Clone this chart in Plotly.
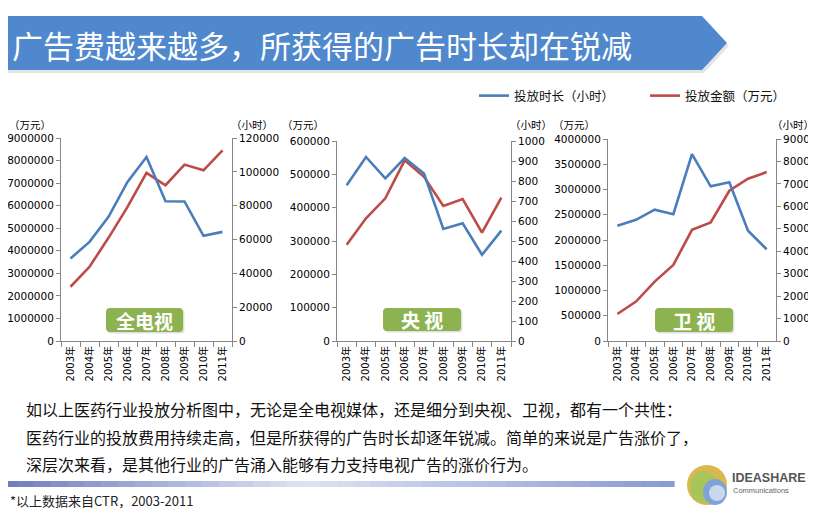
import plotly.graph_objects as go

# ---------------- data ----------------
years = ["2003年", "2004年", "2005年", "2006年", "2007年", "2008年", "2009年", "2010年", "2011年"]

all_tv_hours = [48800, 58600, 73400, 94000, 108800, 82600, 82500, 62200, 64500]
all_tv_spend = [2405000, 3290000, 4574000, 5946000, 7451000, 6905000, 7820000, 7569000, 8454000]

cctv_hours = [779, 920, 813, 915, 837, 560, 589, 431, 552]
cctv_spend = [288600, 368000, 428000, 542000, 492500, 405000, 426000, 325000, 430000]

sat_hours = [5130, 5400, 5850, 5650, 8330, 6890, 7070, 4910, 4090]
sat_spend = [535000, 780000, 1177000, 1507000, 2202000, 2347000, 2975000, 3213000, 3345000]

panel_names = ["全电视", "央 视", "卫 视"]
hours_series = [all_tv_hours, cctv_hours, sat_hours]
spend_series = [all_tv_spend, cctv_spend, sat_spend]
spend_max = [9000000, 600000, 4000000]
spend_step = [1000000, 100000, 500000]
hours_max = [120000, 1000, 9000]
hours_step = [20000, 100, 1000]

series_names = ["投放时长（小时）", "投放金额（万元）"]
title_text = "广告费越来越多，所获得的广告时长却在锐减"
body_lines = [
    "如以上医药行业投放分析图中，无论是全电视媒体，还是细分到央视、卫视，都有一个共性：",
    "医药行业的投放费用持续走高，但是所获得的广告时长却逐年锐减。简单的来说是广告涨价了，",
    "深层次来看，是其他行业的广告涌入能够有力支持电视广告的涨价行为。",
]
footnote = "*以上数据来自CTR，2003-2011"

# ---------------- style ----------------
# the page body has an 8px margin, so the figure is drawn 8px in from the window corner
OFF = 8
W, H = 816 - OFF, 511 - OFF
BLUE = "#4A7EBB"
RED = "#BE4B48"
AXIS = "#868686"
GREEN = "#8DB351"
CJK = "Noto Sans CJK SC"
NUM = "DejaVu Sans, Noto Sans CJK SC"


def px(x):
    return (x - OFF) / W


def py(y):
    return 1 - (y - OFF) / H


def P(x, y):
    return f"{px(x):.5f},{py(y):.5f}"


def note(x, y, text, size, color, family=CJK, xanchor="left"):
    return dict(x=px(x), y=py(y), xref="paper", yref="paper", xanchor=xanchor,
                yanchor="middle", text=text, showarrow=False,
                font=dict(size=size, family=family, color=color))


# panel plot-area boxes in window pixels (left, right, top, bottom)
boxes = [(61, 232, 138, 341), (337, 511, 141, 341), (608, 776, 139, 341)]
label_boxes = [(106, 183, 308, 332), (383, 461, 308, 331), (655, 733, 308, 332)]

fig = go.Figure()
layout = {}
shapes = []
annotations = []

for i in range(3):
    xa = "x" if i == 0 else f"x{i + 1}"
    yl = f"y{2 * i + 1}" if i > 0 else "y"
    yr = f"y{2 * i + 2}"
    xkey = "xaxis" if i == 0 else f"xaxis{i + 1}"
    ylkey = "yaxis" if i == 0 else f"yaxis{2 * i + 1}"
    yrkey = f"yaxis{2 * i + 2}"
    l, r, t, b = boxes[i]

    fig.add_trace(go.Scatter(
        x=years, y=spend_series[i], xaxis=xa, yaxis=yl, mode="lines",
        line=dict(color=RED, width=2.6), name=series_names[1],
        showlegend=(i == 0), legendrank=2, hoverinfo="skip"))
    fig.add_trace(go.Scatter(
        x=years, y=hours_series[i], xaxis=xa, yaxis=yr, mode="lines",
        line=dict(color=BLUE, width=2.6), name=series_names[0],
        showlegend=(i == 0), legendrank=1, hoverinfo="skip"))

    layout[xkey] = dict(
        domain=[px(l), px(r)], anchor=yl, type="category",
        categoryorder="array", categoryarray=years,
        tickson="boundaries", ticks="outside", ticklen=5, tickcolor=AXIS,
        showline=True, linecolor=AXIS, linewidth=1, showgrid=False,
        tickangle=-90, tickfont=dict(size=10, family=NUM, color="#000"),
        range=[-0.5, 8.5], fixedrange=True, zeroline=False, automargin=False)
    layout[ylkey] = dict(
        domain=[py(b), py(t)], anchor=xa, range=[0, spend_max[i]],
        dtick=spend_step[i], tick0=0, tickformat="d",
        ticks="outside", ticklen=4, tickcolor=AXIS,
        showline=True, linecolor=AXIS, linewidth=1, showgrid=False, zeroline=False,
        tickfont=dict(size=10.5, family=NUM, color="#000"), fixedrange=True, automargin=False)
    layout[yrkey] = dict(
        overlaying=yl, anchor=xa, side="right", range=[0, hours_max[i]],
        dtick=hours_step[i], tick0=0, tickformat="d",
        ticks="outside", ticklen=4, tickcolor=AXIS,
        showline=True, linecolor=AXIS, linewidth=1, showgrid=False, zeroline=False,
        tickfont=dict(size=10.5, family=NUM, color="#000"), fixedrange=True, automargin=False)

    # unit labels
    annotations.append(note(max(l - 34, 30), 125, "（万元）", 10.5, "#000", xanchor="center"))
    annotations.append(note(min(r + 20, 793), 125, "（小时）", 10.5, "#000", xanchor="center"))

    # green rounded label
    x0, x1, y0, y1 = label_boxes[i]
    rr = 4
    for off, col in [(1.5, "rgba(0,0,0,0.12)"), (0, GREEN)]:
        a0, a1, b0, b1 = x0 + off, x1 + off, y0 + off, y1 + off
        path = (f"M {P(a0 + rr, b0)} L {P(a1 - rr, b0)} Q {P(a1, b0)} {P(a1, b0 + rr)} "
                f"L {P(a1, b1 - rr)} Q {P(a1, b1)} {P(a1 - rr, b1)} "
                f"L {P(a0 + rr, b1)} Q {P(a0, b1)} {P(a0, b1 - rr)} "
                f"L {P(a0, b0 + rr)} Q {P(a0, b0)} {P(a0 + rr, b0)} Z")
        shapes.append(dict(type="path", path=path, xref="paper", yref="paper",
                           fillcolor=col, line=dict(width=0), layer="above"))
    annotations.append(note((x0 + x1) / 2, (y0 + y1) / 2, f"<b>{panel_names[i]}</b>",
                            19, "white", xanchor="center"))

# title arrow banner
shapes.insert(0, dict(type="path", xref="paper", yref="paper", layer="below",
                      path=f"M {P(0, 19)} L {P(704, 19)} L {P(729, 46)} L {P(704, 73)} L {P(0, 73)} Z",
                      fillcolor="rgba(0,0,0,0.10)", line=dict(width=0)))
shapes.insert(1, dict(type="path", xref="paper", yref="paper", layer="below",
                      path=f"M {P(0, 16)} L {P(702, 16)} L {P(727, 43)} L {P(702, 70)} L {P(0, 70)} Z",
                      fillcolor="#4F88CC", line=dict(width=0)))
annotations.append(note(10, 44, title_text, 31, "white"))

# body text
for k, line in enumerate(body_lines):
    annotations.append(note(24, 409 + 27.5 * k, line, 16, "#111"))

# gradient separator bar
nseg = 40
x_end = 674
c_dark = (112, 126, 192)
c_light = (222, 228, 242)
c_end = (138, 155, 214)
for s in range(nseg):
    f = s / (nseg - 1)
    if f < 0.45:
        t = f / 0.45
        c = [int(c_dark[j] + (c_light[j] - c_dark[j]) * t) for j in range(3)]
    else:
        t = (f - 0.45) / 0.55
        c = [int(c_light[j] + (c_end[j] - c_light[j]) * t) for j in range(3)]
    xa0 = x_end * s / nseg
    xa1 = x_end * (s + 1) / nseg + 0.6
    shapes.append(dict(type="rect", xref="paper", yref="paper",
                       x0=px(max(xa0, OFF)), x1=px(xa1), y0=py(487), y1=py(481),
                       fillcolor=f"rgb({c[0]},{c[1]},{c[2]})", line=dict(width=0), layer="below"))

annotations.append(note(8, 500, footnote, 13, "#222"))

# logo
cx, cy, rad = 707, 485, 20
shapes.append(dict(type="circle", xref="paper", yref="paper",
                   x0=px(cx - rad), x1=px(cx + rad), y0=py(cy + rad), y1=py(cy - rad),
                   fillcolor="#D9B94E", line=dict(width=0)))
shapes.append(dict(type="circle", xref="paper", yref="paper",
                   x0=px(cx - rad + 3), x1=px(cx + rad - 10), y0=py(cy + rad - 2), y1=py(cy - rad + 6),
                   fillcolor="#A9C45A", line=dict(width=0)))
shapes.append(dict(type="circle", xref="paper", yref="paper",
                   x0=px(cx - 4), x1=px(cx + rad), y0=py(cy + rad), y1=py(cy - 6),
                   fillcolor="#7FA3D6", line=dict(width=0)))
shapes.append(dict(type="circle", xref="paper", yref="paper",
                   x0=px(cx + 2), x1=px(cx + rad - 2), y0=py(cy + rad - 4), y1=py(cy),
                   fillcolor="#C8D8EE", line=dict(width=0)))
annotations.append(note(730, 478, "<b>IDEASHARE</b>", 12.5, "#555",
                        family="Liberation Sans Narrow, Liberation Sans"))
annotations.append(note(731, 490, "Communications", 7.5, "#666", family="Liberation Sans"))

layout.update(dict(
    template="none",
    width=W, height=H, autosize=False,
    margin=dict(l=0, r=0, t=0, b=0, pad=0),
    paper_bgcolor="white", plot_bgcolor="rgba(0,0,0,0)",
    shapes=shapes, annotations=annotations,
    legend=dict(orientation="h", x=px(474), y=py(96), xanchor="left", yanchor="middle",
                font=dict(size=12.5, family=CJK, color="#111"),
                bgcolor="rgba(0,0,0,0)", entrywidth=126, entrywidthmode="pixels",
                traceorder="normal", itemclick=False, itemdoubleclick=False),
    showlegend=True,
))
fig.update_layout(**layout)
fig.write_html("out.html")
